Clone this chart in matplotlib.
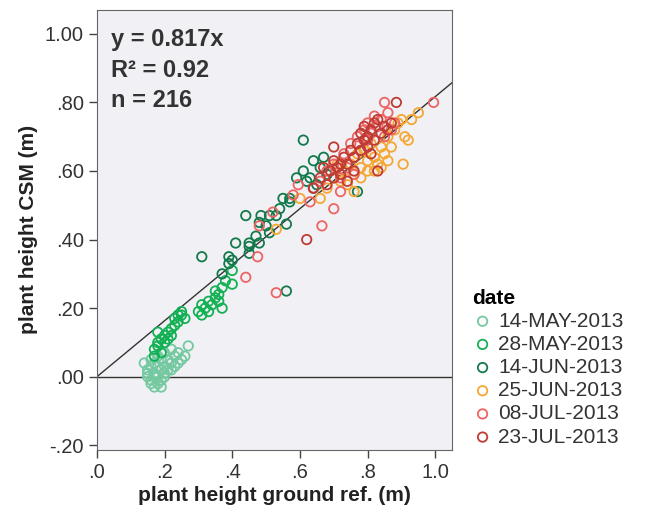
import matplotlib
matplotlib.use("Agg")
import matplotlib.pyplot as plt
import numpy as np

plt.rcParams['font.family'] = ['Liberation Sans', 'DejaVu Sans']

# data (x: ground ref, y: CSM), one list pair per date
dates = ['14-MAY-2013', '28-MAY-2013', '14-JUN-2013',
         '25-JUN-2013', '08-JUL-2013', '23-JUL-2013']
colors = ['#74c9a0', '#13b153', '#137a4c', '#f5a733', '#ee6464', '#bf3b33']

x_may14 = [0.14, 0.15, 0.15, 0.16, 0.16, 0.16, 0.17, 0.17, 0.17, 0.18, 0.18, 0.18,
           0.19, 0.19, 0.19, 0.20, 0.20, 0.20, 0.21, 0.21, 0.22, 0.22, 0.23, 0.23,
           0.24, 0.25, 0.26, 0.27, 0.16, 0.17, 0.18, 0.19, 0.15, 0.20, 0.24, 0.22]
y_may14 = [0.04, 0.02, 0.00, 0.03, -0.01, 0.05, -0.03, 0.01, 0.04, 0.00, 0.06, -0.02,
           0.02, 0.05, -0.01, 0.03, 0.07, 0.00, 0.05, 0.02, 0.04, 0.08, 0.06, 0.03,
           0.07, 0.05, 0.06, 0.09, -0.02, 0.00, 0.03, -0.03, 0.01, 0.01, 0.04, 0.02]

x_may28 = [0.17, 0.17, 0.18, 0.18, 0.19, 0.19, 0.20, 0.20, 0.21, 0.21, 0.22, 0.22,
           0.23, 0.23, 0.24, 0.24, 0.25, 0.25, 0.26, 0.30, 0.31, 0.31, 0.32, 0.33,
           0.33, 0.34, 0.35, 0.35, 0.36, 0.37, 0.36, 0.38, 0.40, 0.40, 0.37, 0.18]
y_may28 = [0.06, 0.08, 0.10, 0.09, 0.07, 0.11, 0.10, 0.12, 0.13, 0.11, 0.12, 0.14,
           0.15, 0.17, 0.18, 0.16, 0.19, 0.18, 0.17, 0.19, 0.21, 0.18, 0.20, 0.22,
           0.19, 0.21, 0.23, 0.25, 0.24, 0.26, 0.22, 0.28, 0.27, 0.31, 0.20, 0.13]

x_jun14 = [0.31, 0.37, 0.39, 0.40, 0.41, 0.39, 0.44, 0.45, 0.45, 0.47, 0.48, 0.485,
           0.48, 0.50, 0.51, 0.51, 0.53, 0.54, 0.56, 0.57, 0.57, 0.55, 0.59, 0.61,
           0.62, 0.64, 0.63, 0.64, 0.65, 0.66, 0.67, 0.68, 0.56, 0.61, 0.77, 0.45]
y_jun14 = [0.35, 0.30, 0.35, 0.34, 0.39, 0.33, 0.47, 0.39, 0.38, 0.41, 0.39, 0.47,
           0.45, 0.44, 0.42, 0.47, 0.47, 0.49, 0.445, 0.51, 0.52, 0.52, 0.58, 0.60,
           0.57, 0.55, 0.58, 0.63, 0.56, 0.61, 0.64, 0.59, 0.25, 0.69, 0.54, 0.36]

x_jun25 = [0.53, 0.60, 0.66, 0.68, 0.70, 0.72, 0.73, 0.74, 0.75, 0.76, 0.77, 0.78,
           0.78, 0.79, 0.80, 0.80, 0.81, 0.82, 0.83, 0.84, 0.84, 0.85, 0.86, 0.86,
           0.87, 0.88, 0.89, 0.90, 0.905, 0.91, 0.92, 0.93, 0.95, 0.82, 0.76, 0.71]
y_jun25 = [0.43, 0.52, 0.52, 0.55, 0.58, 0.57, 0.60, 0.56, 0.62, 0.59, 0.65, 0.61,
           0.58, 0.66, 0.63, 0.60, 0.68, 0.64, 0.62, 0.67, 0.61, 0.65, 0.70, 0.63,
           0.67, 0.72, 0.74, 0.75, 0.62, 0.70, 0.69, 0.75, 0.77, 0.60, 0.54, 0.62]

x_jul08 = [0.44, 0.475, 0.48, 0.52, 0.53, 0.595, 0.63, 0.58, 0.665, 0.70, 0.66, 0.68,
           0.70, 0.72, 0.73, 0.74, 0.75, 0.76, 0.77, 0.78, 0.79, 0.80, 0.80, 0.81,
           0.82, 0.83, 0.84, 0.85, 0.85, 0.86, 0.87, 0.88, 0.995, 0.72, 0.76, 0.64]
y_jul08 = [0.29, 0.35, 0.44, 0.48, 0.245, 0.56, 0.51, 0.53, 0.44, 0.49, 0.57, 0.60,
           0.62, 0.58, 0.65, 0.61, 0.68, 0.64, 0.70, 0.66, 0.72, 0.69, 0.74, 0.71,
           0.76, 0.73, 0.75, 0.80, 0.70, 0.77, 0.72, 0.74, 0.80, 0.54, 0.59, 0.55]

x_jul23 = [0.62, 0.64, 0.66, 0.68, 0.69, 0.70, 0.70, 0.71, 0.72, 0.73, 0.74, 0.75,
           0.76, 0.77, 0.78, 0.78, 0.79, 0.80, 0.80, 0.81, 0.82, 0.82, 0.83, 0.83,
           0.84, 0.85, 0.86, 0.87, 0.885, 0.74, 0.70, 0.67, 0.79, 0.81, 0.76, 0.72]
y_jul23 = [0.40, 0.55, 0.58, 0.56, 0.60, 0.67, 0.63, 0.61, 0.59, 0.64, 0.62, 0.66,
           0.64, 0.68, 0.71, 0.66, 0.73, 0.70, 0.67, 0.72, 0.74, 0.69, 0.60, 0.75,
           0.71, 0.73, 0.72, 0.74, 0.80, 0.57, 0.58, 0.61, 0.69, 0.65, 0.60, 0.62]

xs = [x_may14, x_may28, x_jun14, x_jun25, x_jul08, x_jul23]
ys = [y_may14, y_may28, y_jun14, y_jun25, y_jul08, y_jul23]

slope = 0.817
xticks = [0.0, 0.2, 0.4, 0.6, 0.8, 1.0]
xticklabels = ['.0', '.2', '.4', '.6', '.8', '1.0']
yticks = [-0.2, 0.0, 0.2, 0.4, 0.6, 0.8, 1.0]
yticklabels = ['-.20', '.00', '.20', '.40', '.60', '.80', '1.00']

fig = plt.figure(figsize=(6.46, 5.17), dpi=100)
ax = fig.add_axes([0.150, 0.130, 0.550, 0.851])
ax.set_facecolor('#f1f1f5')

for x, y, c, lab in zip(xs, ys, colors, dates):
    ax.scatter(x, y, s=46, facecolors='none', edgecolors=c, linewidths=1.3,
               label=lab, zorder=3)

# fit line through origin and zero reference line
xl = np.array([0.0, 1.05])
ax.plot(xl, slope * xl, color='#333333', lw=1.0, zorder=2)
ax.axhline(0, color='#333333', lw=1.0, zorder=2)

ax.set_xlim(0, 1.05)
ax.set_ylim(-0.213, 1.07)
ax.set_xticks(xticks)
ax.set_xticklabels(xticklabels)
ax.set_yticks(yticks)
ax.set_yticklabels(yticklabels)
ax.tick_params(direction='out', length=6, width=1, colors='#444444',
               labelsize=14.5, labelcolor='#333333')
for s in ax.spines.values():
    s.set_color('#666666')

ax.set_xlabel('plant height ground ref. (m)', fontsize=15, fontweight='bold',
              color='#222222', labelpad=3)
ax.set_ylabel('plant height CSM (m)', fontsize=15, fontweight='bold',
              color='#222222', labelpad=5)

ax.text(0.04, 0.932, 'y = 0.817x', transform=ax.transAxes, fontsize=17,
        fontweight='bold', color='#333333', va='center')
ax.text(0.04, 0.862, 'R² = 0.92', transform=ax.transAxes, fontsize=17,
        fontweight='bold', color='#333333', va='center')
ax.text(0.04, 0.795, 'n = 216', transform=ax.transAxes, fontsize=17,
        fontweight='bold', color='#333333', va='center')

leg = fig.legend(loc='upper left', bbox_to_anchor=(0.718, 0.458), frameon=False,
                 title='date', fontsize=15, handletextpad=0.25, labelspacing=0.2,
                 borderaxespad=0, handlelength=1.0, markerscale=1.0)
leg.get_title().set_fontweight('bold')
leg.get_title().set_fontsize(15)
leg._legend_box.align = 'left'
for t in leg.get_texts():
    t.set_color('#333333')

fig.savefig('out.png', dpi=100)
